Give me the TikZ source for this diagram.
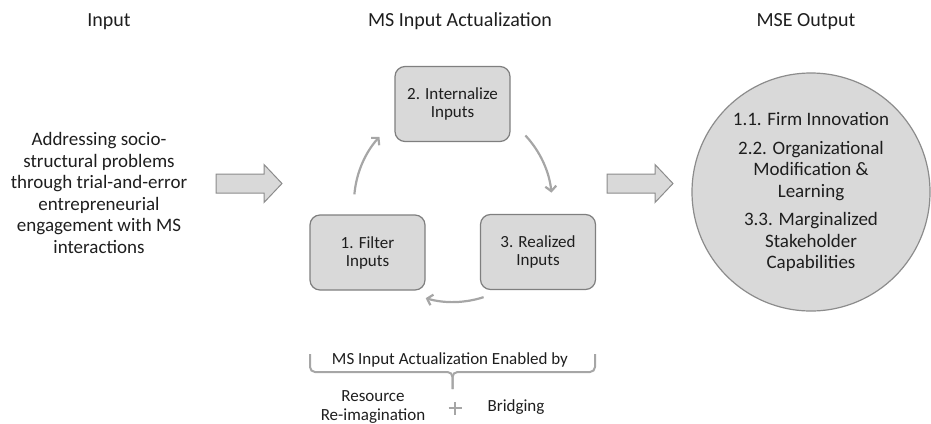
\documentclass[tikz,border=0pt]{standalone}
\usepackage{fontspec}
\setmainfont{Carlito}
\usetikzlibrary{arrows.meta}
\definecolor{txt}{HTML}{1E1E1E}
\definecolor{boxfill}{HTML}{D9D9D9}
\definecolor{boxline}{HTML}{7F7F7F}
\definecolor{circline}{HTML}{8C8C8C}
\definecolor{cyc}{HTML}{A6A6A6}
\tikzset{
  every node/.style={text=txt, inner sep=0pt},
  titletext/.style={font=\fontsize{20}{22}\selectfont, anchor=base},
  bodytext/.style={font=\fontsize{19}{21.5}\selectfont, align=center},
  stepbox/.style={draw=boxline, fill=boxfill, line width=1.2pt, rounded corners=10pt,
    minimum width=115pt, minimum height=75pt, align=center,
    font=\fontsize{17}{18}\selectfont},
  outcircle/.style={circle, draw=circline, fill=boxfill, line width=1.2pt,
    minimum size=238pt, align=center, font=\fontsize{19}{21.5}\selectfont},
  blockarrow/.style={draw=circline, fill=boxfill, line width=1pt, line join=miter},
  cycarrow/.style={draw=cyc, line width=2.2pt, -{Straight Barb[length=5pt,width=11pt]}},
  bracestyle/.style={draw=cyc, line width=2pt, rounded corners=5pt},
  smalltext/.style={font=\fontsize{17}{19}\selectfont, align=center}
}
\begin{document}
\begin{tikzpicture}[x=1pt,y=-1pt]
\useasboundingbox (0,0) rectangle (931,423);

% titles
\node[titletext] (tin) at (109,27) {Input};
\node[titletext] (tms) at (460,27) {MS Input Actualization};
\node[titletext] (tout) at (806,27) {MSE Output};

% input text
\node[bodytext] (intext) at (99,193) {Addressing socio-\\structural problems\\through trial-and-error\\entrepreneurial\\engagement with MS\\interactions};

% block arrows
\draw[blockarrow] (216,174) -- (264,174) -- (264,164.5) -- (282,183.5) -- (264,202.5) -- (264,193) -- (216,193) -- cycle;
\draw[blockarrow] (607,174) -- (655,174) -- (655,164.5) -- (673,183.5) -- (655,202.5) -- (655,193) -- (607,193) -- cycle;

% cycle boxes
\node[stepbox] (b2) at (452.5,104) {2. Internalize\\Inputs};
\node[stepbox] (b1) at (367.5,252.5) {1. Filter\\Inputs};
\node[stepbox] (b3) at (538,252) {3. Realized\\Inputs};

% cycle arrows
\coordinate (cc) at (453,203);
\draw[cycarrow] ([shift={(185:99)}]cc) arc[start angle=185, end angle=222, radius=99];
\draw[cycarrow] ([shift={(317:99)}]cc) arc[start angle=317, end angle=354, radius=99];
\draw[cycarrow] ([shift={(72:99)}]cc) arc[start angle=72, end angle=106, radius=99];

% output circle
\node[outcircle] (out) at (811,192) {1.1. Firm Innovation\\[7pt]2.2. Organizational\\Modification \&\\Learning\\[7pt]3.3. Marginalized\\Stakeholder\\Capabilities};

% enabled by
\node[smalltext] (enab) at (450,360) {MS Input Actualization Enabled by};
\coordinate (brl) at (310,354);
\coordinate (brr) at (595,354);
\coordinate (brm) at (452.5,372);
\coordinate (brt) at (452.5,389);
\draw[bracestyle] (brl) |- (brm) -- (brt);
\draw[bracestyle] (brr) |- (brm) -- (brt);

\node[smalltext] (res) at (373,407.5) {Resource\\Re-imagination};
\node[smalltext] (brd) at (516,407) {Bridging};
\coordinate (plus) at (455,408);
\draw[draw=cyc, line width=2.6pt] ([xshift=-6.5pt]plus) -- ([xshift=6.5pt]plus);
\draw[draw=cyc, line width=2.6pt] ([yshift=-6.5pt]plus) -- ([yshift=6.5pt]plus);
\end{tikzpicture}
\end{document}
